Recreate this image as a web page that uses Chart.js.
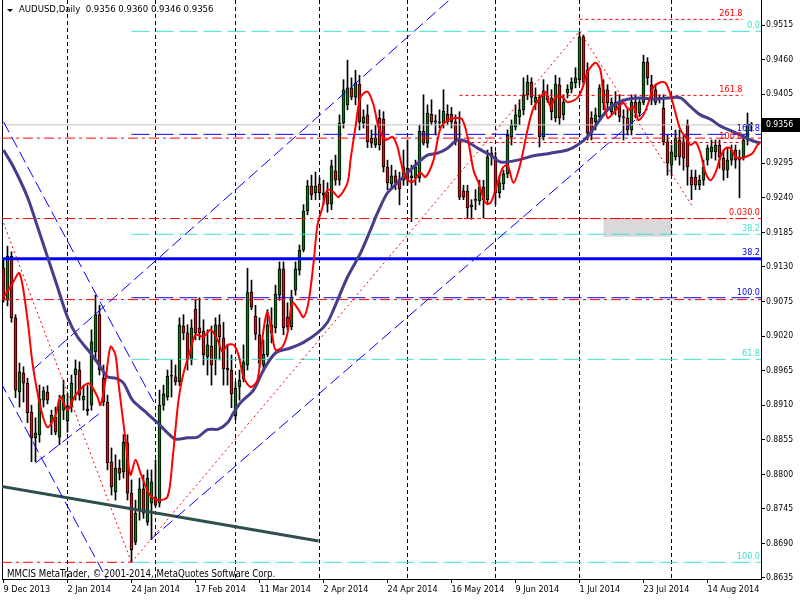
<!DOCTYPE html>
<html>
<head>
<meta charset="utf-8">
<script src="https://cdn.jsdelivr.net/npm/chart.js@4.4.1/dist/chart.umd.min.js"></script>
<style>
  html, body { margin: 0; padding: 0; background: #fff; }
  canvas { display: block; }
</style>
</head>
<body>
<canvas id="myChart" width="800" height="600"></canvas>
<script>
/* globals Chart:false */

// AUDUSD daily candles, bar 0 = 9 Dec 2013
const opens = [0.9128,0.9077,0.9147,0.9049,0.8931,0.8961,0.8945,0.8899,0.8858,0.8863,0.8918,0.8931,0.8882,0.8891,0.8859,0.8902,0.8885,0.8907,0.8958,0.8966,
  0.8918,0.8904,0.8910,0.8995,0.9054,0.8953,0.8915,0.8820,0.8772,0.8810,0.8804,0.8850,0.8770,0.8692,0.8743,0.8777,0.8724,0.8754,0.8764,0.8754,
  0.8910,0.8923,0.8956,0.8955,0.8947,0.9036,0.9025,0.8982,0.9063,0.9033,0.9028,0.8987,0.9004,0.8982,0.9038,0.9017,0.8969,0.8966,0.8893,0.8939,
  0.8952,0.8974,0.9090,0.9052,0.9022,0.8974,0.8990,0.9038,0.9033,0.9085,0.9127,0.9050,0.9035,0.9093,0.9125,0.9157,0.9219,0.9259,0.9248,0.9262,
  0.9245,0.9249,0.9230,0.9283,0.9268,0.9359,0.9388,0.9415,0.9400,0.9421,0.9359,0.9372,0.9335,0.9324,0.9367,0.9365,0.9289,0.9262,0.9275,0.9270,
  0.9268,0.9287,0.9272,0.9272,0.9272,0.9346,0.9327,0.9373,0.9361,0.9359,0.9359,0.9373,0.9373,0.9361,0.9332,0.9251,0.9251,0.9229,0.9237,0.9235,
  0.9257,0.9237,0.9311,0.9305,0.9248,0.9262,0.9278,0.9337,0.9353,0.9369,0.9380,0.9404,0.9424,0.9392,0.9400,0.9337,0.9402,0.9399,0.9367,0.9420,
  0.9372,0.9407,0.9413,0.9423,0.9428,0.9496,0.9443,0.9367,0.9361,0.9369,0.9391,0.9412,0.9377,0.9380,0.9392,0.9369,0.9367,0.9348,0.9392,0.9375,
  0.9392,0.9456,0.9420,0.9412,0.9396,0.9383,0.9329,0.9292,0.9305,0.9332,0.9329,0.9356,0.9273,0.9273,0.9260,0.9268,0.9300,0.9313,0.9313,0.9324,
  0.9303,0.9284,0.9300,0.9316,0.9305,0.9305,0.9332,0.9356]
const highs = [0.9144,0.9163,0.9154,0.9054,0.8977,0.8971,0.8953,0.8910,0.8890,0.8942,0.8939,0.8941,0.8902,0.8907,0.8926,0.8950,0.8929,0.8958,0.8982,0.8979,
  0.8942,0.8942,0.9030,0.9085,0.9069,0.8974,0.8926,0.8842,0.8831,0.8823,0.8863,0.8863,0.8791,0.8759,0.8794,0.8799,0.8807,0.8807,0.8823,0.8934,
  0.8942,0.8966,0.8982,0.8974,0.9049,0.9054,0.9038,0.9046,0.9077,0.9081,0.9046,0.9030,0.9036,0.9049,0.9054,0.9042,0.9006,0.8990,0.8947,0.8966,
  0.9006,0.9128,0.9109,0.9069,0.9049,0.9014,0.9062,0.9065,0.9101,0.9138,0.9138,0.9073,0.9093,0.9138,0.9165,0.9229,0.9268,0.9276,0.9281,0.9272,
  0.9268,0.9264,0.9300,0.9308,0.9372,0.9428,0.9459,0.9431,0.9443,0.9435,0.9380,0.9388,0.9348,0.9356,0.9380,0.9377,0.9300,0.9292,0.9284,0.9281,
  0.9316,0.9332,0.9292,0.9300,0.9356,0.9404,0.9388,0.9396,0.9372,0.9380,0.9412,0.9388,0.9384,0.9372,0.9377,0.9260,0.9260,0.9237,0.9253,0.9268,
  0.9268,0.9316,0.9321,0.9313,0.9276,0.9284,0.9348,0.9364,0.9388,0.9396,0.9431,0.9435,0.9431,0.9415,0.9404,0.9428,0.9420,0.9412,0.9435,0.9431,
  0.9404,0.9420,0.9431,0.9447,0.9505,0.9499,0.9455,0.9377,0.9383,0.9420,0.9428,0.9420,0.9399,0.9409,0.9404,0.9380,0.9380,0.9404,0.9404,0.9396,
  0.9467,0.9463,0.9435,0.9420,0.9404,0.9404,0.9340,0.9324,0.9348,0.9348,0.9340,0.9364,0.9284,0.9284,0.9276,0.9300,0.9324,0.9332,0.9332,0.9332,
  0.9316,0.9319,0.9324,0.9324,0.9316,0.9340,0.9375,0.9360]
const lows = [0.9074,0.9068,0.9042,0.8922,0.8907,0.8915,0.8882,0.8820,0.8820,0.8851,0.8907,0.8912,0.8863,0.8863,0.8847,0.8887,0.8867,0.8899,0.8918,0.8918,
  0.8902,0.8894,0.8902,0.8982,0.8958,0.8909,0.8807,0.8767,0.8759,0.8791,0.8794,0.8759,0.8660,0.8688,0.8727,0.8730,0.8719,0.8696,0.8748,0.8748,
  0.8902,0.8918,0.8923,0.8942,0.8941,0.9014,0.8966,0.8974,0.9014,0.9014,0.8974,0.8958,0.8942,0.8958,0.8982,0.8942,0.8942,0.8906,0.8887,0.8918,
  0.8947,0.8966,0.9062,0.9014,0.8971,0.8963,0.8987,0.9009,0.9025,0.9077,0.9022,0.9030,0.9030,0.9085,0.9117,0.9154,0.9213,0.9237,0.9237,0.9237,
  0.9229,0.9217,0.9221,0.9260,0.9260,0.9351,0.9380,0.9396,0.9388,0.9348,0.9351,0.9320,0.9320,0.9320,0.9316,0.9281,0.9253,0.9253,0.9253,0.9229,
  0.9260,0.9260,0.9202,0.9260,0.9265,0.9324,0.9320,0.9356,0.9340,0.9351,0.9351,0.9356,0.9351,0.9324,0.9237,0.9237,0.9208,0.9206,0.9221,0.9229,
  0.9208,0.9229,0.9292,0.9229,0.9240,0.9253,0.9272,0.9324,0.9348,0.9356,0.9372,0.9396,0.9388,0.9380,0.9321,0.9332,0.9392,0.9364,0.9361,0.9356,
  0.9364,0.9399,0.9407,0.9415,0.9420,0.9420,0.9332,0.9332,0.9348,0.9364,0.9380,0.9380,0.9372,0.9372,0.9361,0.9332,0.9340,0.9340,0.9367,0.9369,
  0.9388,0.9420,0.9388,0.9388,0.9391,0.9324,0.9276,0.9276,0.9300,0.9292,0.9284,0.9260,0.9237,0.9253,0.9253,0.9260,0.9292,0.9303,0.9300,0.9287,
  0.9268,0.9272,0.9292,0.9287,0.9240,0.9300,0.9324,0.9346]
const closes = [0.9077,0.9147,0.9049,0.8934,0.8963,0.8945,0.8898,0.8858,0.8866,0.8920,0.8933,0.8918,0.8894,0.8867,0.8918,0.8926,0.8909,0.8945,0.8968,0.8926,
  0.8924,0.8901,0.9011,0.9054,0.8966,0.8915,0.8818,0.8780,0.8810,0.8802,0.8851,0.8770,0.8680,0.8738,0.8777,0.8738,0.8794,0.8788,0.8751,0.8910,
  0.8928,0.8956,0.8957,0.8947,0.9038,0.9025,0.8982,0.9033,0.9025,0.9025,0.8990,0.9006,0.8974,0.9038,0.9019,0.8968,0.8966,0.8928,0.8937,0.8950,
  0.8979,0.9089,0.9066,0.9023,0.8977,0.8991,0.9038,0.9025,0.9087,0.9127,0.9033,0.9035,0.9082,0.9127,0.9157,0.9219,0.9259,0.9245,0.9259,0.9248,
  0.9248,0.9230,0.9291,0.9268,0.9359,0.9412,0.9415,0.9400,0.9422,0.9361,0.9369,0.9329,0.9327,0.9335,0.9324,0.9289,0.9264,0.9275,0.9264,0.9254,
  0.9289,0.9268,0.9275,0.9289,0.9346,0.9327,0.9375,0.9361,0.9361,0.9361,0.9378,0.9361,0.9361,0.9332,0.9241,0.9241,0.9224,0.9226,0.9236,0.9257,
  0.9237,0.9305,0.9305,0.9248,0.9264,0.9278,0.9340,0.9356,0.9372,0.9380,0.9404,0.9424,0.9400,0.9400,0.9337,0.9410,0.9396,0.9377,0.9421,0.9367,
  0.9392,0.9413,0.9424,0.9431,0.9496,0.9424,0.9343,0.9343,0.9372,0.9415,0.9412,0.9391,0.9392,0.9392,0.9369,0.9367,0.9348,0.9392,0.9375,0.9392,
  0.9456,0.9431,0.9396,0.9392,0.9400,0.9329,0.9295,0.9313,0.9335,0.9305,0.9303,0.9289,0.9260,0.9260,0.9268,0.9289,0.9319,0.9321,0.9324,0.9305,
  0.9284,0.9300,0.9316,0.9300,0.9300,0.9332,0.9356,0.9356]

// moving averages: [bar, price]
const fastMA = [[0,0.9082],[2,0.9101],[4,0.9120],[6,0.9046],[7.25,0.8977],[9.25,0.8907],[11,0.8875],[13,0.8894],[14.25,0.8923],[16,0.8902],
  [18,0.8926],[21.25,0.8945],[23.5,0.8923],[24.25,0.8910],[25.5,0.8950],[26.75,0.9003],[28,0.8990],[28.75,0.8945],[30.5,0.8855],[31.75,0.8799],
  [33,0.8823],[34.25,0.8802],[36.5,0.8768],[38.5,0.8759],[41,0.8764],[42.25,0.8823],[43.75,0.8918],[45,0.8961],[46.75,0.8998],[48,0.9022],
  [50,0.9019],[51.75,0.9030],[53.5,0.9014],[54.75,0.8995],[56,0.9006],[57.5,0.9006],[58.75,0.8990],[60,0.8955],[61.75,0.8939],[63.5,0.8950],
  [65,0.9030],[66,0.9058],[67.25,0.9019],[68,0.8998],[69.75,0.9003],[71,0.9025],[72.25,0.9073],[73.75,0.9062],[75,0.9050],[76.25,0.9074],
  [77.5,0.9136],[78.5,0.9197],[79.75,0.9225],[81,0.9253],[82.5,0.9249],[83.75,0.9241],[86,0.9264],[86.75,0.9300],[88,0.9353],[89.25,0.9400],
  [91,0.9409],[92.5,0.9388],[93.75,0.9353],[95.5,0.9332],[97.25,0.9337],[98.5,0.9321],[99.25,0.9300],[100.5,0.9272],[102.25,0.9265],[104.25,0.9280],
  [105.5,0.9273],[107.5,0.9300],[109.25,0.9351],[111.25,0.9364],[113.5,0.9367],[114.75,0.9364],[116,0.9337],[117.5,0.9284],[118.75,0.9264],[120.5,0.9232],
  [121.75,0.9232],[123,0.9253],[124.75,0.9287],[126,0.9292],[127.5,0.9264],[129.25,0.9295],[131,0.9348],[132.5,0.9383],[134.25,0.9400],[135.5,0.9409],
  [136.75,0.9385],[138,0.9400],[139.75,0.9400],[141,0.9392],[143.5,0.9399],[144.75,0.9415],[146,0.9440],[148,0.9455],[149.25,0.9443],[150,0.9400],
  [151,0.9367],[152.5,0.9375],[153.75,0.9385],[155,0.9391],[156.25,0.9380],[157.5,0.9385],[158.75,0.9364],[160,0.9372],[161.25,0.9392],[162.5,0.9416],
  [164.25,0.9424],[165.5,0.9423],[166.75,0.9404],[168,0.9375],[169.25,0.9348],[170.5,0.9337],[171.75,0.9324],[173,0.9329],[174.25,0.9311],[175.5,0.9280],
  [176.75,0.9268],[178,0.9280],[179.25,0.9305],[180.5,0.9319],[181.75,0.9319],[183,0.9305],[184.25,0.9303],[185.5,0.9305],[187.25,0.9311],[188.5,0.9324],
  [189.25,0.9329]]
const slowMA = [[0,0.9316],[2.5,0.9289],[6,0.9241],[8.5,0.9194],[11,0.9146],[13.5,0.9098],[16,0.9050],[18.5,0.9019],[21.75,0.8993],[24.25,0.8971],
  [26,0.8955],[28,0.8953],[30,0.8945],[32.25,0.8918],[35,0.8902],[38.5,0.8882],[41,0.8866],[43,0.8856],[46,0.8858],[48.5,0.8859],
  [51,0.8871],[53.75,0.8872],[56,0.8882],[57.5,0.8898],[59.25,0.8914],[62.5,0.8934],[65,0.8966],[68,0.8993],[71.75,0.9001],[75,0.9010],
  [78.5,0.9025],[81,0.9042],[82.5,0.9062],[86,0.9114],[89.25,0.9152],[91.75,0.9189],[93.5,0.9216],[96,0.9248],[98.5,0.9264],[101,0.9280],
  [103.5,0.9295],[106,0.9308],[108.5,0.9311],[111,0.9319],[113.5,0.9332],[116,0.9329],[118.5,0.9319],[121.75,0.9308],[124.25,0.9297],[128.5,0.9300],
  [132.5,0.9307],[136.75,0.9311],[141,0.9316],[143.5,0.9324],[146,0.9337],[148.5,0.9359],[151,0.9380],[153.5,0.9391],[156,0.9397],[159.25,0.9399],
  [162.5,0.9397],[166,0.9399],[169.25,0.9399],[171.75,0.9385],[174.25,0.9372],[176.75,0.9365],[179.25,0.9354],[182.5,0.9345],[186.75,0.9332],[189.25,0.9327]]

// axes
const priceTicks = [0.8635,0.8690,0.8745,0.8800,0.8855,0.8910,0.8965,0.9020,0.9075,0.9130,0.9185,0.9240,0.9295,0.9350,0.9405,0.9460,0.9515]
const tickBars = [0,16,32,48,64,80,96,112,128,144,160,176]
const tickDates = ['9 Dec 2013','2 Jan 2014','24 Jan 2014','17 Feb 2014','11 Mar 2014','2 Apr 2014','24 Apr 2014','16 May 2014','9 Jun 2014','1 Jul 2014','23 Jul 2014','14 Aug 2014']
const monthStarts = [16,38,58,79,101,123,144,167]
const lastPrice = 0.9356

// objects drawn on the chart
const fiboStart = 32
const cyanLevels = [0.9505,0.9182,0.8983,0.8660]
const cyanLabels = ['0.0','38.2','61.8','100.0']
const blueLevels = [0.9341,0.9081]
const blueLabels = ['161.8','100.0']
const blueLine = 0.9143
const blueLineLabel = '38.2'
const redDashLevels = [0.9335,0.9207,0.9078]
const redLowLevel = 0.8660
const expStarts = [114,114,114,144]
const expEnd = 184.75
const expLevels = [0.9207,0.9328,0.9403,0.9524]
const expLabels = ['0.030.0','100.0','161.8','261.8']
const blueTrends = [[0,0.9361,38,0.8910],[-0.75,0.8947,25.75,0.8634],[7.25,0.8966,111.5,0.9555],[36.75,0.8696,161.75,0.9385],[8,0.8818,24.25,0.8898]]
const redTrends = [[32,0.8660,144,0.9505],[0,0.9200,32,0.8660],[144,0.9505,172.5,0.9224]]
const slateTrend = [-0.75,0.8781,78.75,0.8694]
const grayBox = [150,167,0.9207,0.9178]

const FONT = '"DejaVu Sans Condensed", "DejaVu Sans", sans-serif'
const X_MIN = -0.375
const X_MAX = 189.375

const seg = (a, b, c, d) => [{ x: a, y: b }, { x: c, y: d }]
const lineDs = (data, color, width, dash, order) => ({
  type: 'line', data, borderColor: color, borderWidth: width, borderDash: dash || [],
  pointRadius: 0, fill: false, tension: 0, order
})

const datasets = []
// candles: wicks below bodies
datasets.push({
  type: 'bar', data: closes.map((c, i) => ({ x: i, y: [lows[i], highs[i]] })),
  backgroundColor: '#000', barThickness: 1, grouped: false, order: 20
})
datasets.push({
  type: 'bar', data: closes.map((c, i) => ({ x: i, y: [opens[i], c] })),
  backgroundColor: ctx => closes[ctx.dataIndex] >= opens[ctx.dataIndex] ? '#008000' : '#ff0000',
  borderColor: '#000', borderWidth: 1, borderSkipped: false, barThickness: 3,
  minBarLength: 1, grouped: false, order: 19
})
// fibo / horizontal lines
cyanLevels.forEach(p => datasets.push(lineDs(seg(fiboStart, p, X_MAX, p), '#40e0d0', 1, [18, 6], 10)))
blueLevels.forEach(p => datasets.push(lineDs(seg(fiboStart, p, X_MAX, p), '#0000ff', 1, [18, 6], 10)))
datasets.push(lineDs(seg(X_MIN, blueLine, X_MAX, blueLine), '#0000ff', 3, [], 10))
redDashLevels.forEach(p => datasets.push(lineDs(seg(X_MIN, p, X_MAX, p), '#ff0000', 1, [10, 4, 3, 4], 10)))
datasets.push(lineDs(seg(X_MIN, redLowLevel, fiboStart, redLowLevel), '#ff0000', 1, [10, 4, 3, 4], 10))
expLevels.forEach((p, k) => datasets.push(lineDs(seg(expStarts[k], p, expEnd, p), '#ff0000', 1, [3, 3], 10)))
datasets.push(lineDs(seg(X_MIN, lastPrice, X_MAX, lastPrice), '#c0c0c0', 1, [], 11))
// trend lines
blueTrends.forEach(t => datasets.push(lineDs(seg(...t), '#0000ff', 1, [12, 5], 9)))
redTrends.forEach(t => datasets.push(lineDs(seg(...t), '#ff0000', 1, [2, 3], 9)))
datasets.push(lineDs(seg(...slateTrend), '#2f4f4f', 3, [], 9))
// moving averages
datasets.push({
  type: 'line', data: slowMA.map(p => ({ x: p[0], y: p[1] })), borderColor: '#483d8b',
  borderWidth: 3, pointRadius: 0, fill: false, tension: 0.3, order: 8
})
datasets.push({
  type: 'line', data: fastMA.map(p => ({ x: p[0], y: p[1] })), borderColor: '#ff0000',
  borderWidth: 2, pointRadius: 0, fill: false, tension: 0.3, order: 7
})

const decor = {
  id: 'decor',
  beforeDatasetsDraw (chart) {
    const { ctx, chartArea: a, scales: { x, y } } = chart
    ctx.save()
    ctx.fillStyle = '#d9d9d9'
    const bx0 = x.getPixelForValue(grayBox[0])
    const bx1 = x.getPixelForValue(grayBox[1])
    const by0 = y.getPixelForValue(grayBox[2])
    const by1 = y.getPixelForValue(grayBox[3])
    ctx.fillRect(bx0, by0, bx1 - bx0, by1 - by0)
    // month separators
    ctx.strokeStyle = '#000'
    ctx.lineWidth = 1
    ctx.setLineDash([4, 3])
    monthStarts.forEach(b => {
      const px = x.getPixelForValue(b)
      ctx.beginPath(); ctx.moveTo(px, a.top); ctx.lineTo(px, a.bottom); ctx.stroke()
    })
    ctx.setLineDash([])
    ctx.beginPath(); ctx.moveTo(a.left + 0.5, a.top); ctx.lineTo(a.left + 0.5, a.bottom); ctx.stroke()
    ctx.restore()
  },
  afterDatasetsDraw (chart) {
    const { ctx, chartArea: a, scales: { x, y } } = chart
    ctx.save()
    ctx.font = '9px ' + FONT
    ctx.textBaseline = 'bottom'
    ctx.textAlign = 'right'
    const right = a.right - 1
    cyanLevels.forEach((p, k) => { ctx.fillStyle = '#40e0d0'; ctx.fillText(cyanLabels[k], right, y.getPixelForValue(p) - 1) })
    blueLevels.forEach((p, k) => { ctx.fillStyle = '#0000ff'; ctx.fillText(blueLabels[k], right, y.getPixelForValue(p) - 1) })
    ctx.fillStyle = '#0000ff'
    ctx.fillText(blueLineLabel, right, y.getPixelForValue(blueLine) - 2)
    const er = x.getPixelForValue(expEnd)
    expLevels.forEach((p, k) => {
      ctx.fillStyle = '#ff0000'
      ctx.fillText(expLabels[k], k === 0 ? right : er, y.getPixelForValue(p) - 1)
    })
    // header and copyright
    ctx.fillStyle = '#000'
    ctx.beginPath(); ctx.moveTo(7, 9); ctx.lineTo(13, 9); ctx.lineTo(10, 12); ctx.closePath(); ctx.fill()
    ctx.textAlign = 'left'
    ctx.textBaseline = 'middle'
    ctx.font = '9.5px ' + FONT
    ctx.fillText('AUDUSD,Daily  0.9356 0.9360 0.9346 0.9356', 19, 10)
    ctx.font = '9.6px ' + FONT
    ctx.fillText('MMCIS MetaTrader, \u00a9 2001-2014, MetaQuotes Software Corp.', 7, 574)
    ctx.restore()
  },
  afterDraw (chart) {
    const { ctx, chartArea: a, scales: { y } } = chart
    const py = Math.round(y.getPixelForValue(lastPrice))
    ctx.save()
    ctx.fillStyle = '#000'
    ctx.fillRect(a.right + 1, py - 7, 800 - a.right - 1, 14)
    ctx.fillStyle = '#fff'
    ctx.font = '8.6px ' + FONT
    ctx.textBaseline = 'middle'
    ctx.textAlign = 'left'
    ctx.fillText(lastPrice.toFixed(4), a.right + 5, py)
    ctx.restore()
  }
}

const ctx = document.getElementById('myChart')
// eslint-disable-next-line no-unused-vars
const myChart = new Chart(ctx, {
  type: 'bar',
  data: { datasets },
  options: {
    responsive: false,
    animation: false,
    devicePixelRatio: 1,
    layout: { autoPadding: false, padding: { left: 2, top: 0, right: 0, bottom: 0 } },
    plugins: { legend: { display: false }, tooltip: { enabled: false } },
    scales: {
      x: {
        type: 'linear', position: 'bottom', min: X_MIN, max: X_MAX, offset: false,
        afterBuildTicks: s => { s.ticks = tickBars.map(v => ({ value: v })) },
        afterFit: s => { s.height = 21; s.paddingLeft = 0; s.paddingRight = 0 },
        grid: { display: true, offset: false, drawOnChartArea: false, drawTicks: true, tickLength: 4, color: '#000' },
        border: { display: true, color: '#000' },
        ticks: {
          autoSkip: false, maxRotation: 0, align: 'start', padding: 1, color: '#000',
          font: { family: FONT, size: 9 },
          callback: v => tickDates[tickBars.indexOf(v)]
        }
      },
      y: {
        type: 'linear', position: 'right', min: 0.86334, max: 0.95548,
        afterBuildTicks: s => { s.ticks = priceTicks.map(v => ({ value: v })) },
        afterFit: s => { s.width = 39; s.paddingTop = 0; s.paddingBottom = 0 },
        grid: { display: true, drawOnChartArea: false, drawTicks: true, tickLength: 4, color: '#000' },
        border: { display: true, color: '#000' },
        ticks: {
          autoSkip: false, padding: 1, color: '#000',
          font: { family: FONT, size: 8.6 },
          callback: v => v.toFixed(4)
        }
      }
    }
  },
  plugins: [decor]
})
</script>
</body>
</html>
